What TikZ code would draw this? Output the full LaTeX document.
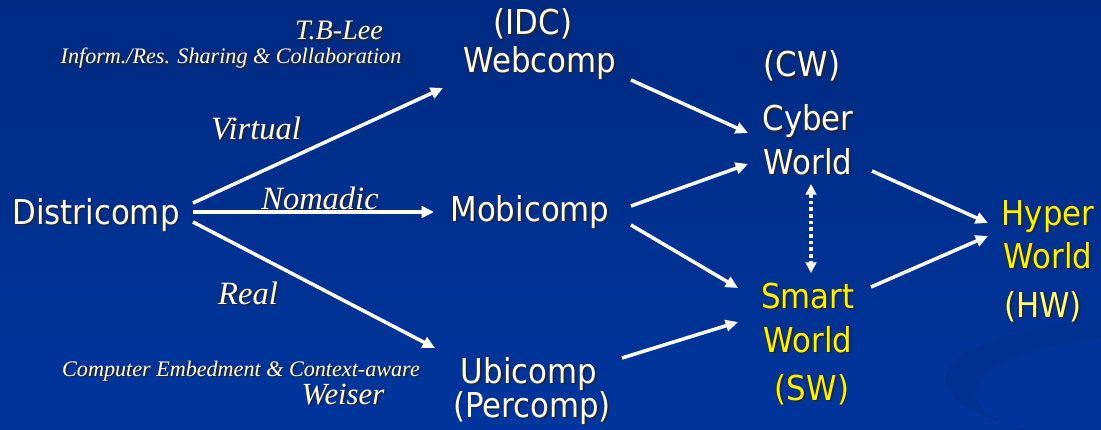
\documentclass[tikz,border=0pt]{standalone}
\usepackage{fontspec}
\usepackage{tikz}
\usetikzlibrary{calc,arrows.meta}
\newfontfamily\slidesans[FakeStretch=0.9]{DejaVu Sans}
\newfontfamily\slideserif{Liberation Serif}
\definecolor{bgtop}{HTML}{002A82}
\definecolor{bgbot}{HTML}{00359C}
\definecolor{bgswoosh}{HTML}{003090}
\definecolor{hwyellow}{HTML}{FFFF80}
\def\shtxt#1{\makebox[0pt][l]{\hspace{1.1pt}\raisebox{-1.1pt}{\color{black!85}#1}}#1}
\tikzset{
	word/.style={anchor=base, inner sep=0pt, text=white, font=\slidesans\fontsize{19.5}{23}\selectfont},
	yword/.style={word, text=yellow},
	how/.style={anchor=base, inner sep=0pt, text=white, font=\slideserif\itshape\fontsize{18.5}{22}\selectfont},
	note/.style={how, font=\slideserif\itshape\fontsize{12.6}{15}\selectfont},
	arr/.style={white, line width=2pt, -{Triangle[length=7pt,width=6.5pt]}},
	link/.style={white, line width=2pt, dash pattern=on 2.2pt off 1.6pt, {Triangle[length=6pt,width=6pt]}-{Triangle[length=6pt,width=6pt]}}
}

\begin{document}
\begin{tikzpicture}[x=0.02cm, y=-0.02cm]
		%%%%% START %%%%%
		
		\shade[top color=bgtop, bottom color=bgbot] (0, 0) rectangle (1101, 429);
		\useasboundingbox (0, 0) rectangle (1101, 429);
		\fill[bgswoosh, even odd rule] (1180, 380) ellipse (235 and 65) (1205, 393) ellipse (230 and 62);
		
		% left side
		\node[word] (dist) at (96, 224) {\shtxt{Districomp}};
		\node[note] (tbl) at (339, 40) {\shtxt{\fontsize{16}{18}\selectfont T.B-Lee}};
		\node[note] (share) at (231, 64) {\shtxt{Inform./Res. Sharing \& Collaboration}};
		\node[how] (virt) at (256, 139) {\shtxt{Virtual}};
		\node[how] (nomad) at (320, 209) {\shtxt{Nomadic}};
		\node[how] (real) at (248, 304) {\shtxt{Real}};
		\node[note] (embed) at (241, 376) {\shtxt{Computer Embedment \& Context-aware}};
		\node[note] (weis) at (343, 404) {\shtxt{\fontsize{17.5}{20}\selectfont Weiser}};
		
		% middle column
		\node[word] (idc) at (533, 35) {\shtxt{(IDC)}};
		\node[word] (web) at (540, 72) {\shtxt{Webcomp}};
		\node[word] (mobi) at (530, 221) {\shtxt{Mobicomp}};
		\node[word] (ubi) at (529, 383) {\shtxt{Ubicomp}};
		\node[word] (perc) at (532, 417) {\shtxt{(Percomp)}};
		
		% worlds
		\node[word] (cw) at (802, 77) {\shtxt{(CW)}};
		\node[word] (cyber) at (808, 131) {\shtxt{Cyber}};
		\node[word] (cworld) at (808, 174) {\shtxt{World}};
		\node[yword] (smart) at (808, 308) {\shtxt{Smart}};
		\node[yword] (sworld) at (808, 352) {\shtxt{World}};
		\node[yword] (sw) at (812, 400) {\shtxt{(SW)}};
		\node[yword] (hyper) at (1048, 225) {\shtxt{Hyper}};
		\node[yword] (hworld) at (1048, 268) {\shtxt{World}};
		\node[word, text=hwyellow] (hw) at (1043, 317) {\shtxt{(HW)}};
		
		% arrows
		\draw[arr] ($(dist.base)+(97,-21)$) -- ($(web.base)+(-97,16)$);
		\draw[arr] ($(dist.base)+(97,-12)$) -- ($(mobi.base)+(-96,-9)$);
		\draw[arr] ($(dist.base)+(97,-2)$) -- ($(ubi.base)+(-94,-35)$);
		
		\draw[arr] ($(web.base)+(91,8)$) -- ($(cyber.base)+(-60,2)$);
		\draw[arr] ($(mobi.base)+(101,-15)$) -- ($(cworld.base)+(-60,-10)$);
		\draw[arr] ($(mobi.base)+(101,4)$) -- ($(smart.base)+(-70,-20)$);
		\draw[arr] ($(ubi.base)+(93,-25)$) -- ($(smart.base)+(-70,14)$);
		
		\draw[link] ($(cworld.base)+(3,10)$) -- ($(smart.base)+(3,-35)$);
		
		\draw[arr] ($(cworld.base)+(64,-3)$) -- ($(hyper.base)+(-60,-2)$);
		\draw[arr] ($(smart.base)+(63,-21)$) -- ($(hyper.base)+(-60,11)$);
		
		%%%%% END %%%%%
\end{tikzpicture}
\end{document}
